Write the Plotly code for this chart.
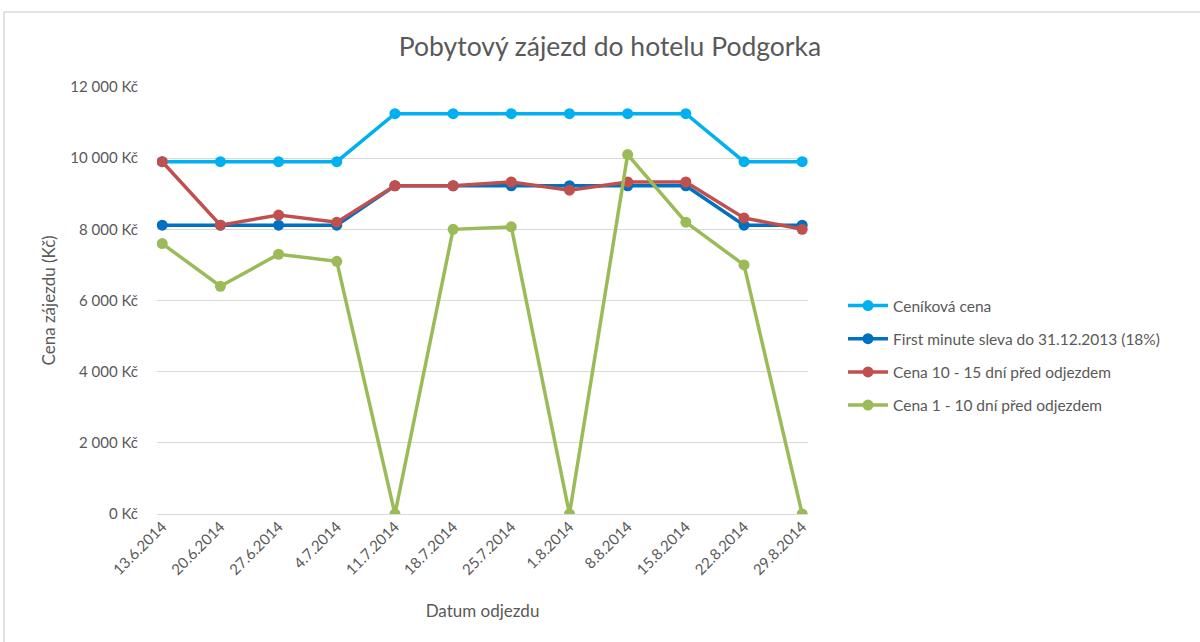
import plotly.graph_objects as go

dates = ["13.6.2014", "20.6.2014", "27.6.2014", "4.7.2014", "11.7.2014", "18.7.2014",
         "25.7.2014", "1.8.2014", "8.8.2014", "15.8.2014", "22.8.2014", "29.8.2014"]
cenikova = [9900, 9900, 9900, 9900, 11250, 11250, 11250, 11250, 11250, 11250, 9900, 9900]
first_minute = [8118, 8118, 8118, 8118, 9225, 9225, 9225, 9225, 9225, 9225, 8118, 8118]
cena_10_15 = [9900, 8118, 8400, 8200, 9225, 9225, 9330, 9100, 9330, 9330, 8320, 8000]
cena_1_10 = [7600, 6400, 7300, 7100, 0, 8000, 8070, 0, 10100, 8200, 7000, 0]

names = ["Ceníková cena", "First minute sleva do 31.12.2013 (18%)",
         "Cena 10 - 15 dní před odjezdem", "Cena 1 - 10 dní před odjezdem"]
series = [cenikova, first_minute, cena_10_15, cena_1_10]
colors = ["#00B0F0", "#0070C0", "#C0504D", "#9BBB59"]

FONT = "Lato"
TXT = "#595959"

fig = go.Figure()
for i, (nm, vals, col) in enumerate(zip(names, series, colors)):
    fig.add_trace(go.Scatter(
        x=list(range(len(dates))), y=vals, name=nm, mode="lines+markers",
        line=dict(color=col, width=3.5), marker=dict(color=col, size=11),
        legendgroup=f"g{i}",
    ))

# body margin is removed by a post script, so page pixels == figure pixels
OFF = 0
FW, FH = 1200, 642
L, T = 157 - OFF, 87 - OFF
R = FW - (808 - OFF)
B = FH - (514 - OFF)
W = FW - L - R
H = FH - T - B


def px_x(px):
    return (px - OFF - L) / W


def px_y(py):
    return (FH - B - (py - OFF)) / H


fig.update_layout(
    width=FW, height=FH,
    margin=dict(l=L, r=R, t=T, b=B),
    paper_bgcolor="white", plot_bgcolor="white",
    font=dict(family=FONT, color=TXT, size=15),
    title=dict(text="Pobytový zájezd do hotelu Podgorka", x=(610 - OFF) / FW, xanchor="center",
               y=1 - (47 - OFF) / FH, yanchor="middle", font=dict(size=26.5, color=TXT, family=FONT)),
    showlegend=True,
    legend=dict(x=px_x(843), xanchor="left", y=px_y(289), yanchor="top",
                font=dict(size=15.5, color=TXT, family=FONT), tracegroupgap=10,
                bgcolor="rgba(0,0,0,0)", itemwidth=40),
    xaxis=dict(
        tickmode="array", tickvals=list(range(len(dates))), ticktext=dates,
        range=[-0.09, 11.1], tickangle=-45, showgrid=False, zeroline=False,
        showline=False, ticks="", tickfont=dict(size=15, color=TXT),
        title=dict(text="Datum odjezdu", font=dict(size=17, color=TXT), standoff=28),
    ),
    yaxis=dict(
        range=[0, 12000], tickvals=[0, 2000, 4000, 6000, 8000, 10000, 12000],
        ticktext=["0 Kč", "2 000 Kč", "4 000 Kč", "6 000 Kč", "8 000 Kč", "10 000 Kč", "12 000 Kč"],
        showgrid=True, gridcolor="#D9D9D9", gridwidth=1, zeroline=True, zerolinecolor="#D9D9D9",
        zerolinewidth=1, showline=False, ticks="", tickfont=dict(size=15, color=TXT),
        ticklabelstandoff=18,
        title=dict(text="Cena zájezdu (Kč)", font=dict(size=17, color=TXT), standoff=10),
    ),
)

# outer chart frame
fig.add_shape(type="rect", xref="paper", yref="paper",
              x0=px_x(4), x1=px_x(1215), y0=px_y(670), y1=px_y(12),
              line=dict(color="#D9D9D9", width=1.5), fillcolor="rgba(0,0,0,0)", layer="below")

fig.write_html("out.html",
               config={"displayModeBar": False},
               post_script="document.body.style.margin='0';document.body.style.overflow='hidden';")
